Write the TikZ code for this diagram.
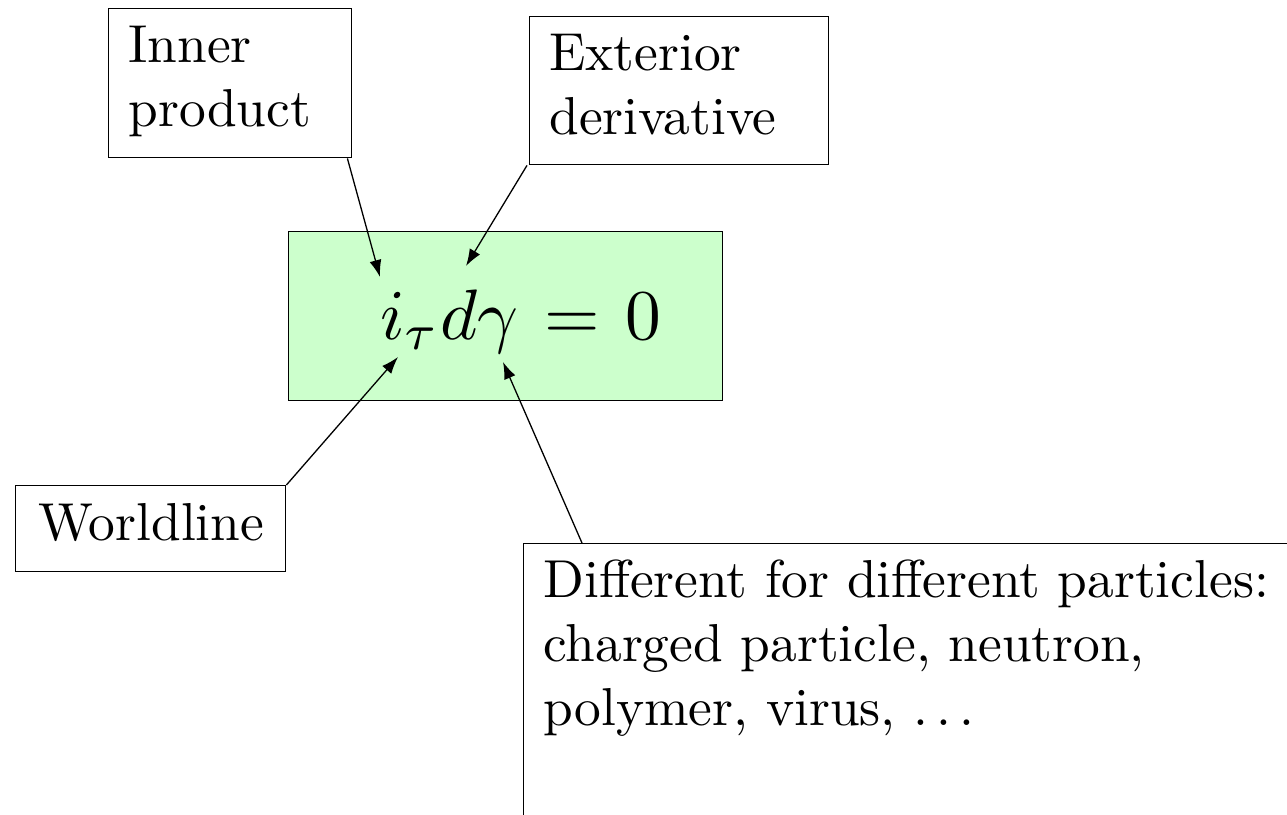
\documentclass[tikz,border=0pt]{standalone}
\usepackage{fontspec}
\setmainfont{lmroman10-regular}[Extension=.otf]
\usetikzlibrary{arrows.meta,calc}
\definecolor{eqgreen}{HTML}{CCFFCC}
\newcommand{\mydots}{.\kern.15em.\kern.15em.}
\tikzset{
  box/.style={draw=black, line width=0.7pt, inner sep=0pt, anchor=north west},
  lbl/.style={anchor=base west, inner sep=0pt, align=left, font=\fontsize{26.7}{31.8}\selectfont},
  pointer/.style={draw=black, line width=0.65pt, -{Latex[length=8.5pt,width=6pt]}}
}
\begin{document}
\begin{tikzpicture}[x=0.5pt,y=-0.5pt]
\useasboundingbox (0,0) rectangle (1287,815);
% boxes
\node[box, minimum width=121.5pt, minimum height=74.5pt] (inner) at (108,8) {};
\node[box, minimum width=149.5pt, minimum height=74pt] (ext) at (529,16) {};
\node[box, fill=eqgreen, minimum width=217pt, minimum height=84.5pt] (eqbox) at (288,231) {};
\node[box, minimum width=135pt, minimum height=43pt] (world) at (15,485) {};
\node[box, minimum width=400pt, minimum height=150pt] (diff) at (523,543) {};
% texts (anchored at the baseline of the last line)
\node[lbl] (tinner) at (128,126) {Inner\\product};
\node[lbl] (text) at (549,134) {Exterior\\derivative};
\node[lbl] (tworld) at (38,540) {Worldline};
\node[lbl] (tdiff) at (543,725) {Different for different particles:\\charged particle, neutron,\\polymer, virus, \mydots};
\node[anchor=base west, inner sep=0pt] (eq) at (380,339) {\scalebox{3.57}{$i_\tau d\gamma\mskip1.5mu=\mskip1.5mu0$}};
% arrow targets
\coordinate (pi) at (380,277);
\coordinate (pd) at (466,266);
\coordinate (ptau) at (398,357);
\coordinate (pgamma) at (503,362);
% connectors
\draw[pointer] ($(inner.south east)+(-5,0)$) -- (pi);
\draw[pointer] ($(ext.south west)+(-2,0)$) -- (pd);
\draw[pointer] (world.north east) -- (ptau);
\draw[pointer] ($(diff.north west)+(59,0)$) -- (pgamma);
\end{tikzpicture}
\end{document}
